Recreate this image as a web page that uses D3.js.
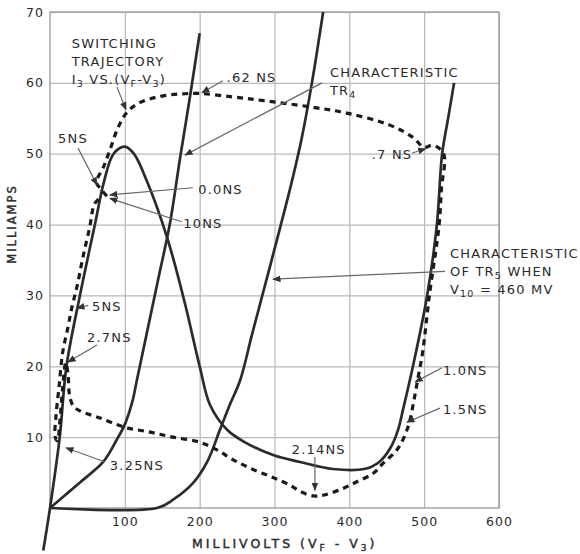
<!DOCTYPE html>
<html>
<head>
<meta charset="utf-8">
<script src="https://cdn.jsdelivr.net/npm/d3@7"></script>
<style>
  body { margin: 0; background: #fff; }
  text { font-family: "DejaVu Sans", sans-serif; fill: #2a2a2a; }
</style>
</head>
<body>
<script>
// ticks
var xTicks = [100, 200, 300, 400, 500, 600];
var yTicks = [10, 20, 30, 40, 50, 60, 70];

// curves, [millivolts, milliamps]
var diodeCurve = [[-9,-6],[0,0],[13,10],[22,20],[40,30],[60,40],[72,46],[85,50],[100,51],[112,50],
  [130,46],[157,38],[180,29],[200,20],[214,14.5],[237,11],[260,9.3],[300,7.4],[334,6.5],[378,5.5],
  [420,5.5],[440,6.5],[455,8.5],[465,11],[472,14],[485,20],[504,30],[517,40],[524,50],[532,55],[540,60]];
var tr4Curve = [[0,0],[20,1.8],[40,3.6],[71,6.5],[89,9.6],[100,11.8],[110,15],[116,18],[130,25],
  [145,32.5],[160,40],[174,49.5],[187,58],[200,67]];
var tr5Curve = [[0,0],[143,0],[165,1.2],[191,3.5],[210,6.5],[227,11],[240,14.5],[254,18],[270,24.5],
  [290,32.5],[323,46],[336,52],[350,60],[365,70]];
var trajectory = [[76,44],[68,45],[62,46],[71,48],[80,50.5],[91,53.7],[104,56],[120,57.2],[143,58],
  [170,58.4],[200,58.5],[245,58],[285,57.5],[348,56.6],[398,55.7],[455,54],[485,52.3],[500,50.9],
  [512,51.2],[526,50],[523,45],[520,40],[507,30],[498,22],[492,18.5],[486,15],[480,12],[471,9.5],
  [462,8],[445,6.3],[432,4.9],[410,3.7],[388,2.6],[365,1.8],[352,1.7],[335,2.3],[321,3.2],[298,4.3],
  [270,5.5],[245,6.8],[223,8.2],[200,9.3],[164,10],[134,10.7],[100,11.4],[67,12.7],[40,13.7],
  [31,14.4],[26,16],[24,19],[21,20.5],[17,17],[13,12],[10,9.5],[7,10],[8,13],[12,17],[17,22],
  [24,25.5],[29,28.2],[36,31.2],[44,35.4],[53,39.6],[60,43],[70,44]];

// annotations: text lines at [mV, mA], arrow from -> to ; <x> = subscript
var notes = [
  {at:[29,65.6], lines:["SWITCHING","TRAJECTORY","I<3> VS.(V<F>-V<3>)"], from:[89.5,59.4], to:[101.6,56.2]},
  {at:[236,60.8], lines:[".62 NS"], from:[231,60.3], to:[203,58.6]},
  {at:[374,61.5], lines:["CHARACTERISTIC","TR<4>"], from:[363.5,60], to:[180.4,49.8]},
  {at:[430,50], lines:[".7 NS"], from:[484,50.1], to:[502,50.7]},
  {at:[10.7,52.2], lines:["5NS"], from:[37.4,50.8], to:[62.8,45.6]},
  {at:[198,45], lines:["0.0NS"], from:[191,45.2], to:[80,44.2]},
  {at:[178,40.2], lines:["10NS"], from:[176,40.4], to:[80,43.7]},
  {at:[56,28.5], lines:["5NS"], from:[51,28.6], to:[36,28.2]},
  {at:[49.5,24.1], lines:["2.7NS"], from:[62.8,23], to:[24,20.6]},
  {at:[80,6], lines:["3.25NS"], from:[73.5,6.5], to:[21.4,8.5]},
  {at:[323,8.3], lines:["2.14NS"], from:[354,7.2], to:[354,2.5]},
  {at:[525,19.5], lines:["1.0NS"], from:[524,19.8], to:[488,17.8]},
  {at:[525,14], lines:["1.5NS"], from:[521,14.1], to:[477,12.1]},
  {at:[534.5,36], lines:["CHARACTERISTIC","OF TR<5> WHEN","V<10> = 460 MV"], from:[528,33.4], to:[298,32.3]}
];

var W = 580, H = 554;
var svg = d3.select("body").append("svg").attr("width", W).attr("height", H);
svg.append("rect").attr("width", W).attr("height", H).attr("fill", "#fff");

var x = d3.scaleLinear().domain([0, 600]).range([50, 499]);
var y = d3.scaleLinear().domain([0, 70]).range([508, 12]);

// grid + tick labels
var gx = svg.append("g").attr("transform", "translate(0,508)")
  .call(d3.axisBottom(x).tickValues(xTicks).tickSize(-496).tickPadding(9));
var gy = svg.append("g").attr("transform", "translate(50,0)")
  .call(d3.axisLeft(y).tickValues(yTicks).tickSize(-449).tickPadding(6));
[gx, gy].forEach(function(g){
  g.select(".domain").remove();
  g.selectAll(".tick line").attr("stroke", "#b8b8b8").attr("stroke-width", 1.2);
  g.selectAll(".tick text").style("font-size", "12.5px").style("letter-spacing", "1px")
    .attr("fill", "#333");
});
svg.append("rect").attr("x", 50).attr("y", 12).attr("width", 449).attr("height", 496)
  .attr("fill", "none").attr("stroke", "#999").attr("stroke-width", 1.3);

// text with subscripts written as <x>
function richText(sel, s, subSize){
  var parts = s.split(/(<[^>]+>)/).filter(function(p){ return p.length; });
  var low = false;
  parts.forEach(function(p){
    var isSub = p.charAt(0) === "<";
    var t = sel.append("tspan").text(isSub ? p.slice(1, -1) : p);
    if (isSub) { t.attr("font-size", subSize); if (!low) t.attr("dy", 3); low = true; }
    else if (low) { t.attr("dy", -3); low = false; }
  });
}

var xt = svg.append("text").attr("x", 192).attr("y", 548).style("font-size", "12.5px")
  .style("letter-spacing", "3px").attr("stroke", "#2a2a2a").attr("stroke-width", 0.4);
richText(xt, "MILLIVOLTS (V<F> - V<3>)", 9);
svg.append("text").attr("transform", "translate(16,224) rotate(-90)")
  .attr("text-anchor", "middle").style("font-size", "11.5px")
  .attr("stroke", "#2a2a2a").attr("stroke-width", 0.4)
  .style("letter-spacing", "2px").text("MILLIAMPS");

// curves
var line = d3.line().x(function(d){ return x(d[0]); }).y(function(d){ return y(d[1]); })
  .curve(d3.curveCatmullRom.alpha(0.5));
[diodeCurve, tr4Curve, tr5Curve].forEach(function(c){
  svg.append("path").datum(c).attr("d", line).attr("fill", "none")
    .attr("stroke", "#2b2b2b").attr("stroke-width", 2.7);
});
svg.append("path").datum(trajectory).attr("d", line).attr("fill", "none")
  .attr("stroke", "#1a1a1a").attr("stroke-width", 3.2).attr("stroke-dasharray", "6,5");

// annotations
svg.append("defs").append("marker").attr("id", "ah").attr("viewBox", "0 0 10 10")
  .attr("refX", 9).attr("refY", 5).attr("markerWidth", 7).attr("markerHeight", 7)
  .attr("orient", "auto").append("path").attr("d", "M0,1L10,5L0,9Z").attr("fill", "#333");

notes.forEach(function(n){
  svg.append("line").attr("x1", x(n.from[0])).attr("y1", y(n.from[1]))
    .attr("x2", x(n.to[0])).attr("y2", y(n.to[1]))
    .attr("stroke", "#666").attr("stroke-width", 1.2).attr("marker-end", "url(#ah)");
  n.lines.forEach(function(s, i){
    var t = svg.append("text").attr("x", x(n.at[0])).attr("y", y(n.at[1]) + i * 18 + 5)
      .style("font-size", "13px").style("letter-spacing", "1.2px");
    richText(t, s, 9.5);
  });
});
</script>
</body>
</html>
